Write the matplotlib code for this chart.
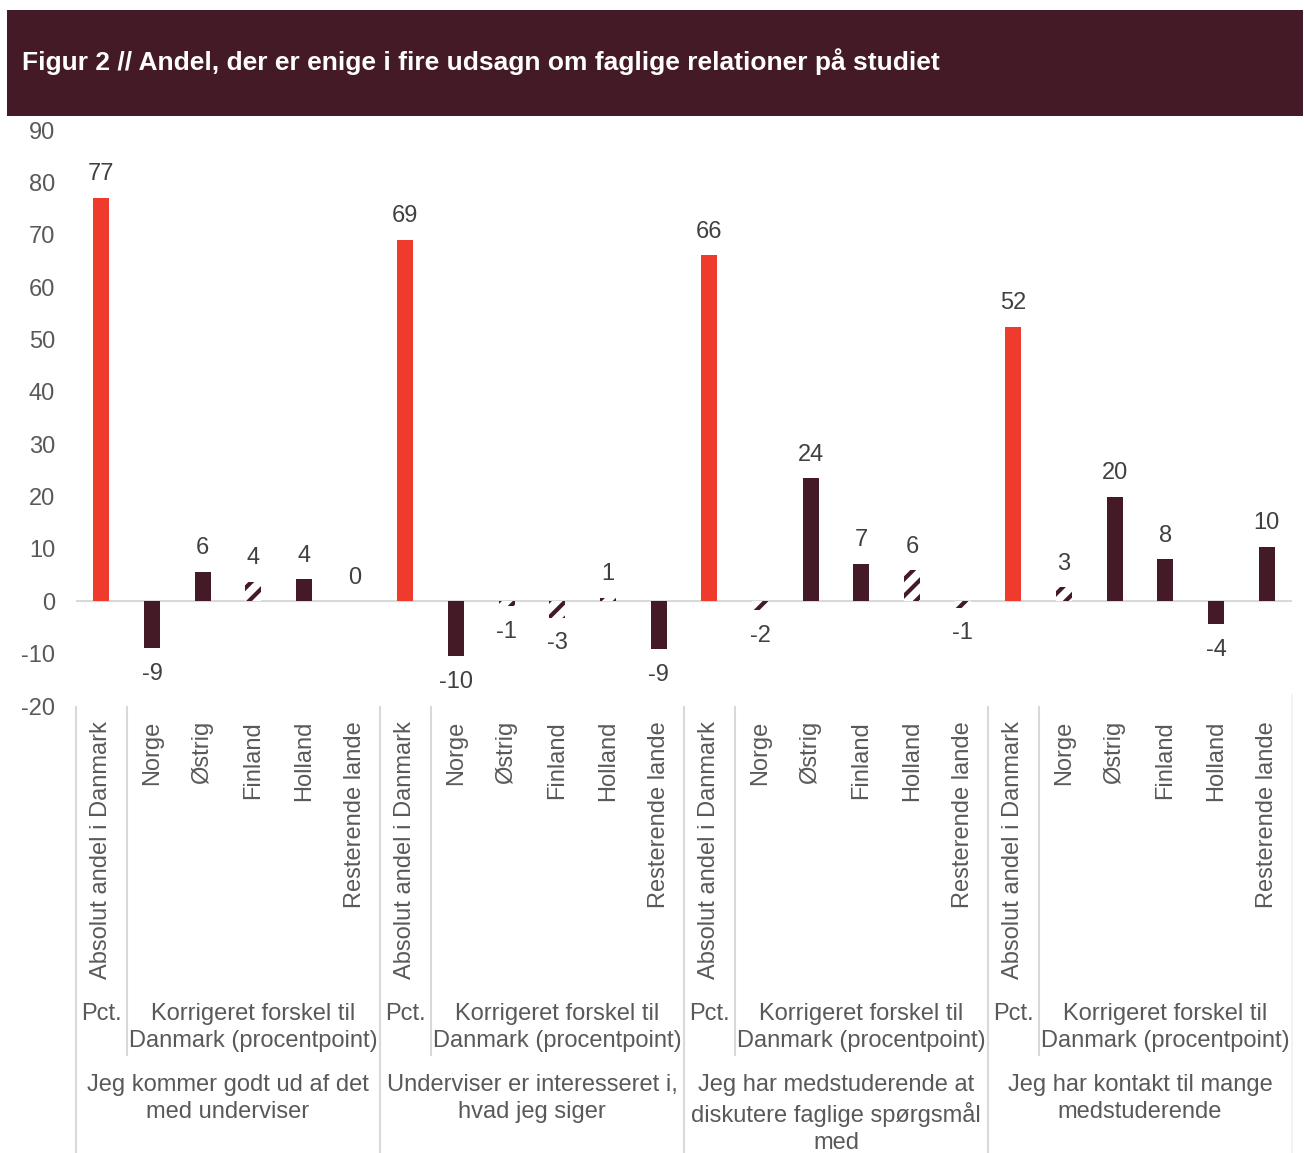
import matplotlib
matplotlib.use("Agg")
import matplotlib.pyplot as plt
from matplotlib.patches import Rectangle
from matplotlib import transforms
import numpy as np

plt.rcParams['font.family'] = ['Liberation Sans', 'DejaVu Sans']
plt.rcParams['hatch.linewidth'] = 3.0

# ---------------- data ----------------
title = "Figur 2 // Andel, der er enige i fire udsagn om faglige relationer på studiet"
groups = ["Jeg kommer godt ud af det\nmed underviser",
          "Underviser er interesseret i,\nhvad jeg siger",
          "Jeg har medstuderende at\ndiskutere faglige spørgsmål\nmed",
          "Jeg har kontakt til mange\nmedstuderende"]
abs_label = "Absolut andel i Danmark"
countries = ["Norge", "Østrig", "Finland", "Holland", "Resterende lande"]
sub_pct = "Pct."
sub_diff = "Korrigeret forskel til\nDanmark (procentpoint)"

absolute = [77.0, 69.0, 66.1, 52.4]
diff_g1 = [-9.0, 5.6, 3.7, 4.2, 0.0]
diff_g2 = [-10.5, -0.9, -3.1, 0.7, -9.2]
diff_g3 = [-1.7, 23.5, 7.1, 5.9, -1.2]
diff_g4 = [2.7, 19.9, 8.0, -4.4, 10.4]
# True = statistically insignificant (hatched)
insig_g1 = [False, False, True, False, False]
insig_g2 = [False, True, True, True, False]
insig_g3 = [True, False, False, True, True]
insig_g4 = [True, False, False, False, False]

yticks = [90, 80, 70, 60, 50, 40, 30, 20, 10, 0, -10, -20]

RED = "#EE3B2E"
DARK = "#431A25"
GRAY_TXT = "#595959"
VAL_TXT = "#404040"
LINE = "#D9D9D9"

FS = 17

W, H = 1304, 1153
fig = plt.figure(figsize=(W / 100, H / 100), dpi=100)

# header band
fig.patches.append(Rectangle((7 / W, 1 - 116 / H), 1296 / W, 106 / H,
                             transform=fig.transFigure, facecolor=DARK,
                             edgecolor='none', zorder=0))
fig.text(22 / W, 1 - 62 / H, title, color='white', fontsize=19,
         fontweight='bold', ha='left', va='center')

ax_left, ax_right = 76 / W, 1292 / W
ax_top, ax_bot = 1 - 130 / H, 1 - 706 / H
ax = fig.add_axes([ax_left, ax_bot, ax_right - ax_left, ax_top - ax_bot])
ax.set_xlim(-0.5, 23.5)
ax.set_ylim(-20, 90)
for s in ax.spines.values():
    s.set_visible(False)
ax.set_xticks([])
ax.set_yticks(yticks)
ax.set_yticklabels([str(t) for t in yticks])
ax.tick_params(axis='y', length=0, pad=15, labelsize=FS, labelcolor=GRAY_TXT)
ax.axhline(0, color=LINE, lw=1.5, zorder=1)

diffs = [diff_g1, diff_g2, diff_g3, diff_g4]
insigs = [insig_g1, insig_g2, insig_g3, insig_g4]

bw = 0.32
cat_labels = []
for g in range(4):
    base = g * 6
    # absolute bar
    v = absolute[g]
    ax.bar(base, v, width=bw, color=RED, zorder=2)
    ax.annotate(f"{v:.0f}", (base, v), xytext=(0, 17), textcoords='offset points',
                ha='center', va='center', fontsize=FS, color=VAL_TXT)
    cat_labels.append(abs_label)
    for i, (d, ins) in enumerate(zip(diffs[g], insigs[g])):
        x = base + 1 + i
        if ins:
            ax.bar(x, d, width=bw, facecolor='white', edgecolor=DARK,
                   hatch='//', linewidth=0, zorder=2)
        else:
            ax.bar(x, d, width=bw, color=DARK, zorder=2)
        off = 17 if d >= 0 else -18.5
        ax.annotate(f"{d:.0f}", (x, d), xytext=(0, off), textcoords='offset points',
                    ha='center', va='center', fontsize=FS, color=VAL_TXT)
        cat_labels.append(countries[i])

# multi-level axis labels below
tr = transforms.blended_transform_factory(ax.transData, fig.transFigure)
def fy(py):
    return 1 - py / H

for x, lab in enumerate(cat_labels):
    ax.text(x, fy(721), lab, transform=tr, rotation=90, ha='center', va='top',
            fontsize=FS, color=GRAY_TXT, clip_on=False)

for g in range(4):
    base = g * 6
    ax.text(base, fy(1003), sub_pct, transform=tr, ha='center', va='top',
            fontsize=FS, color=GRAY_TXT, clip_on=False, linespacing=1.3)
    ax.text(base + 3, fy(1003), sub_diff, transform=tr, ha='center', va='top',
            fontsize=FS, color=GRAY_TXT, clip_on=False, linespacing=1.3)
    ax.text(base + 2.5, fy(1074), groups[g], transform=tr, ha='center', va='top',
            fontsize=FS, color=GRAY_TXT, clip_on=False, linespacing=1.3)
    # separators
    ax.plot([base - 0.5, base - 0.5], [fy(707), fy(1153)], transform=tr,
            color=LINE, lw=1.5, clip_on=False)
    ax.plot([base + 0.5, base + 0.5], [fy(707), fy(1055)], transform=tr,
            color=LINE, lw=1.5, clip_on=False)
ax.plot([23.5, 23.5], [fy(695), fy(1153)], transform=tr,
        color="#F0F0F0", lw=1.2, clip_on=False)

fig.savefig("out.png", dpi=100)
